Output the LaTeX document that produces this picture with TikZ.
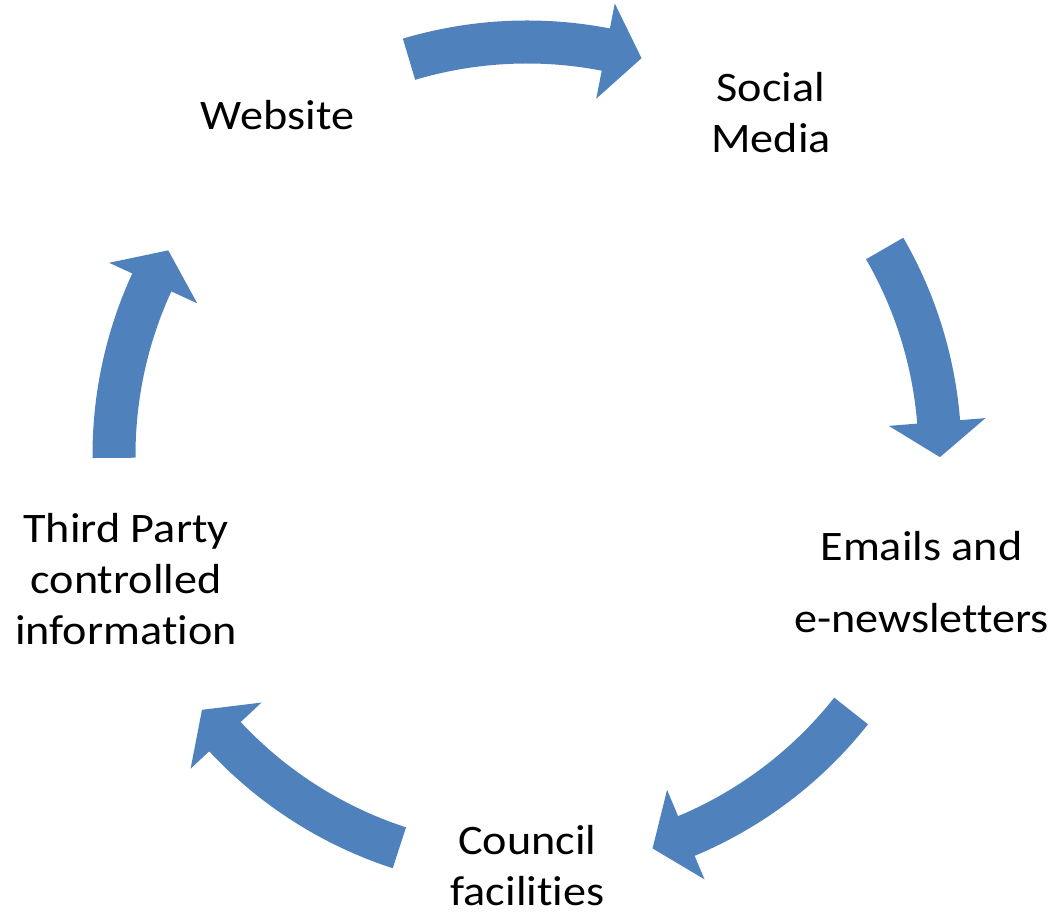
\documentclass[tikz,border=0pt]{standalone}
\usepackage{fontspec}
\setmainfont{Carlito}[Ligatures=NoCommon, FakeStretch=1.1]
\definecolor{cycblue}{HTML}{4F81BD}
\begin{document}
\begin{tikzpicture}[x=1pt,y=1pt,
  lbl/.style={align=center, anchor=base, inner sep=0pt, font=\fontsize{42}{51}\selectfont},
  cycarrow/.style={fill=cycblue}]
\useasboundingbox (0,0) rectangle (1060,920);
\coordinate (C) at (527,465);
\node[lbl] (web) at (277.5,790.7) {Website};
\node[lbl] (soc) at (771,767.7) {Social\\Media};
\node[lbl] (mail) at (921.5,287) {Emails and\\[21pt]e-newsletters};
\node[lbl] (coun) at (527.5,14.3) {Council\\facilities};
\node[lbl] (third) at (126,275) {Third Party\\controlled\\information};
\foreach \a/\b/\t in {106.6/79/73.9, 30/4.6/-0.3, -38.3/-67.3/-72.3, 252/223/218.1, 180.4/155.3/150.3}
  \fill[cycarrow, shift={(C)}] (\a:434.5pt) arc[start angle=\a, end angle=\b, radius=434.5pt]
    -- (\b:460pt) -- (\t:413pt) -- (\b:363pt) -- (\b:391.5pt)
    arc[start angle=\b, end angle=\a, radius=391.5pt] -- cycle;
\end{tikzpicture}
\end{document}
